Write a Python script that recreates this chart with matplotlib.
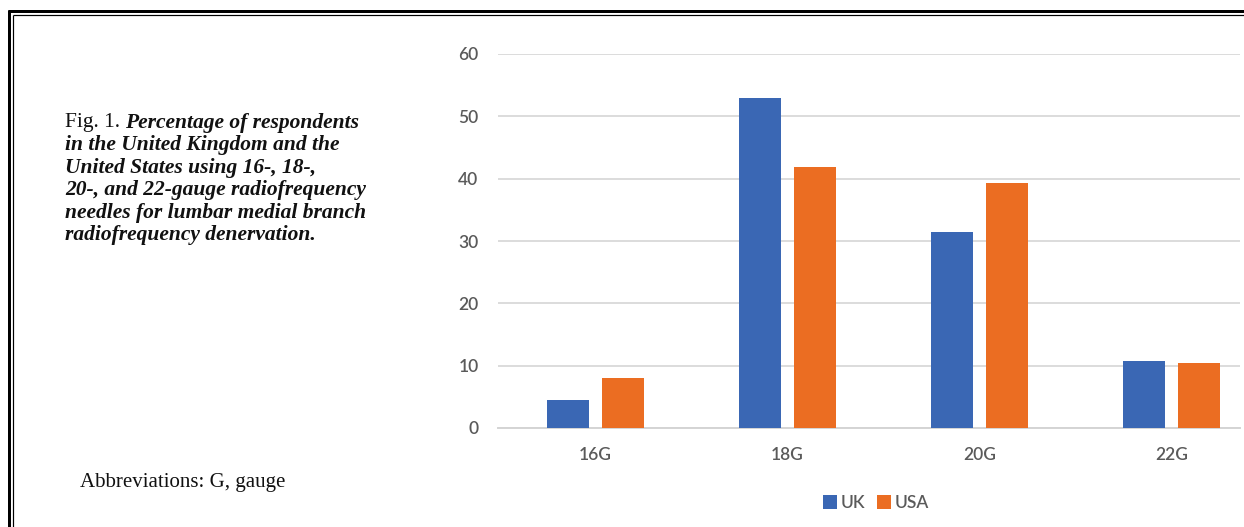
import matplotlib
matplotlib.use("Agg")
import matplotlib.pyplot as plt
import numpy as np

categories = ['16G', '18G', '20G', '22G']
uk = [4.5, 53.0, 31.5, 10.8]
usa = [8.1, 41.9, 39.3, 10.5]
yticks = [0, 10, 20, 30, 40, 50, 60]
series_names = ['UK', 'USA']
caption_lead = "Fig. 1. "
caption_lines = ["Percentage of respondents",
                 "in the United Kingdom and the",
                 "United States using 16-, 18-,",
                 "20-, and 22-gauge radiofrequency",
                 "needles for lumbar medial branch",
                 "radiofrequency denervation."]
abbrev = "Abbreviations: G, gauge"

W, H = 1244, 527
DPI = 100
fig = plt.figure(figsize=(W / DPI, H / DPI), dpi=DPI)
fig.patch.set_facecolor('white')

# background overlay axes in pixel coordinates
bg = fig.add_axes([0, 0, 1, 1], zorder=0)
bg.set_xlim(0, W)
bg.set_ylim(H, 0)
bg.axis('off')
# double frame (thick + thin), top and left
bg.plot([8, W], [11, 11], color='black', lw=3 * 72 / DPI, solid_capstyle='butt')
bg.plot([12.7, W], [14.7, 14.7], color='black', lw=1.2 * 72 / DPI, solid_capstyle='butt')
bg.plot([9.3, 9.3], [9.5, H], color='black', lw=3 * 72 / DPI, solid_capstyle='butt')
bg.plot([12.7, 12.7], [14.7, H], color='black', lw=1.2 * 72 / DPI, solid_capstyle='butt')

serif = ['Liberation Serif', 'DejaVu Serif']
x0 = 65
cap_fs = 15.5
t0 = bg.text(x0, 122, caption_lead, fontsize=cap_fs, family=serif, va='center', ha='left', color='#111111')
fig.canvas.draw()
bb = t0.get_window_extent(renderer=fig.canvas.get_renderer())
lead_w = bb.width
for i, line in enumerate(caption_lines):
    xx = x0 + lead_w if i == 0 else x0
    bg.text(xx, 123 + i * 22.4, line, fontsize=cap_fs, family=serif, style='italic',
            weight='bold', va='center', ha='left', color='#111111')
bg.text(80, 483, abbrev, fontsize=15, family=serif, va='center', ha='left', color='#111111')

# chart axes
left, right = 498 / W, 1240 / W
bottom, top = 1 - 428 / H, 1 - 54 / H
ax = fig.add_axes([left, bottom, right - left, top - bottom], zorder=1)
ax.patch.set_alpha(0)
x = np.arange(len(categories))
bw = 0.219
off = 0.143
ax.bar(x - off, uk, bw, color='#3A67B4', label=series_names[0], zorder=3)
ax.bar(x + off, usa, bw, color='#EB6D22', label=series_names[1], zorder=3)
ax.set_xlim(-0.508, 3.357)
ax.set_ylim(0, 60)
ax.set_yticks(yticks)
ax.set_xticks(x)
ax.set_xticklabels(categories)
ax.grid(axis='y', color='#DCDCDC', lw=1.4, zorder=0)
for s in ['top', 'right', 'left']:
    ax.spines[s].set_visible(False)
ax.spines['bottom'].set_color('#D4D4D4')
ax.spines['bottom'].set_linewidth(1.4)
tick_fs = 12.5
ax.tick_params(axis='both', length=0, labelsize=tick_fs, labelcolor='#5A5A5A')
ax.tick_params(axis='y', pad=14)
ax.tick_params(axis='x', pad=14)
for lab in ax.get_xticklabels() + ax.get_yticklabels():
    lab.set_fontfamily(['Lato', 'DejaVu Sans'])
    lab.set_fontweight('semibold')

leg = ax.legend(loc='center', bbox_to_anchor=((876 - 498) / (1240 - 498), (428 - 503) / (428 - 54)),
                ncol=2, frameon=False, handlelength=0.8, handleheight=0.8, handletextpad=0.2,
                columnspacing=0.7, prop={'family': ['Lato', 'DejaVu Sans'], 'size': tick_fs, 'weight': 'semibold'})
for t in leg.get_texts():
    t.set_color('#5A5A5A')

fig.savefig('out.png', dpi=DPI, facecolor='white')
